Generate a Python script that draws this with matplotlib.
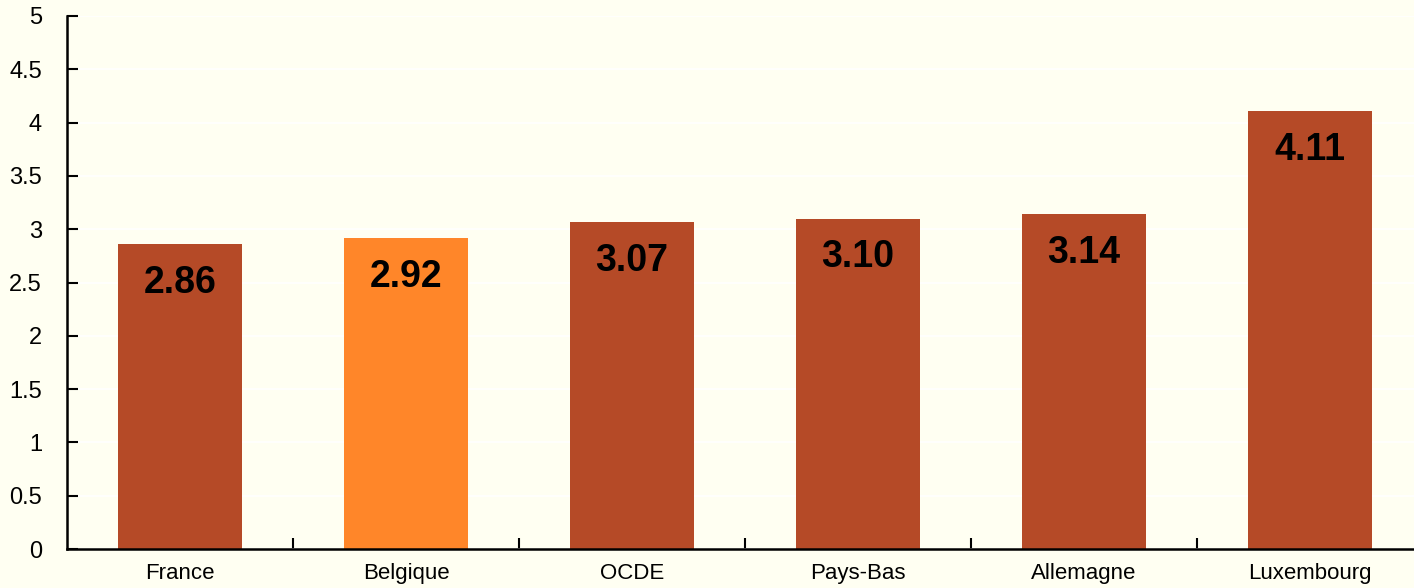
import matplotlib
matplotlib.use("Agg")
import matplotlib.pyplot as plt
from matplotlib import font_manager as fm

categories = ["France", "Belgique", "OCDE", "Pays-Bas", "Allemagne", "Luxembourg"]
values = [2.86, 2.92, 3.07, 3.10, 3.14, 4.11]
labels = ["2.86", "2.92", "3.07", "3.10", "3.14", "4.11"]
highlight = "Belgique"

names = {f.name for f in fm.fontManager.ttflist}
narrow = "Liberation Sans Narrow" if "Liberation Sans Narrow" in names else "Liberation Sans"

bg = "#FFFFF2"
fig = plt.figure(figsize=(14.14, 5.88), dpi=100, facecolor=bg)
ax = fig.add_axes([67/1414, 39/588, 1356/1414, 533/588], facecolor=bg)

x = list(range(len(categories)))
colors = ["#FF8629" if c == highlight else "#B54A27" for c in categories]
bars = ax.bar(x, values, width=0.55, color=colors, zorder=2)

for xi, v, lab in zip(x, values, labels):
    ax.annotate(lab, (xi, v), xytext=(0, -28), textcoords="offset points",
                ha="center", va="center", fontsize=27, fontweight="bold",
                family=[narrow, "DejaVu Sans"], color="black", zorder=3)

ax.set_xlim(-0.5, len(categories) - 0.5)
ax.set_ylim(0, 5)
ax.set_yticks([i * 0.5 for i in range(11)])
ax.set_yticklabels(["0", "0.5", "1", "1.5", "2", "2.5", "3", "3.5", "4", "4.5", "5"])
ax.yaxis.grid(True, color="white", linewidth=1.2, zorder=0)
ax.set_axisbelow(True)

ax.set_xticks(x)
ax.set_xticklabels(categories)
ax.tick_params(axis="x", length=0, pad=10, labelsize=16)
ax.set_xticks([i + 0.5 for i in range(len(categories) - 1)], minor=True)
ax.tick_params(axis="x", which="minor", direction="in", length=8, width=1.5, color="black")
ax.tick_params(axis="y", direction="in", length=8, width=1.5, pad=18, labelsize=17)
for lbl in ax.get_xticklabels() + ax.get_yticklabels():
    lbl.set_family([narrow, "DejaVu Sans"])

for s in ["top", "right"]:
    ax.spines[s].set_visible(False)
for s in ["left", "bottom"]:
    ax.spines[s].set_linewidth(1.8)
    ax.spines[s].set_color("black")

fig.savefig("out.png", dpi=100, facecolor=bg)
